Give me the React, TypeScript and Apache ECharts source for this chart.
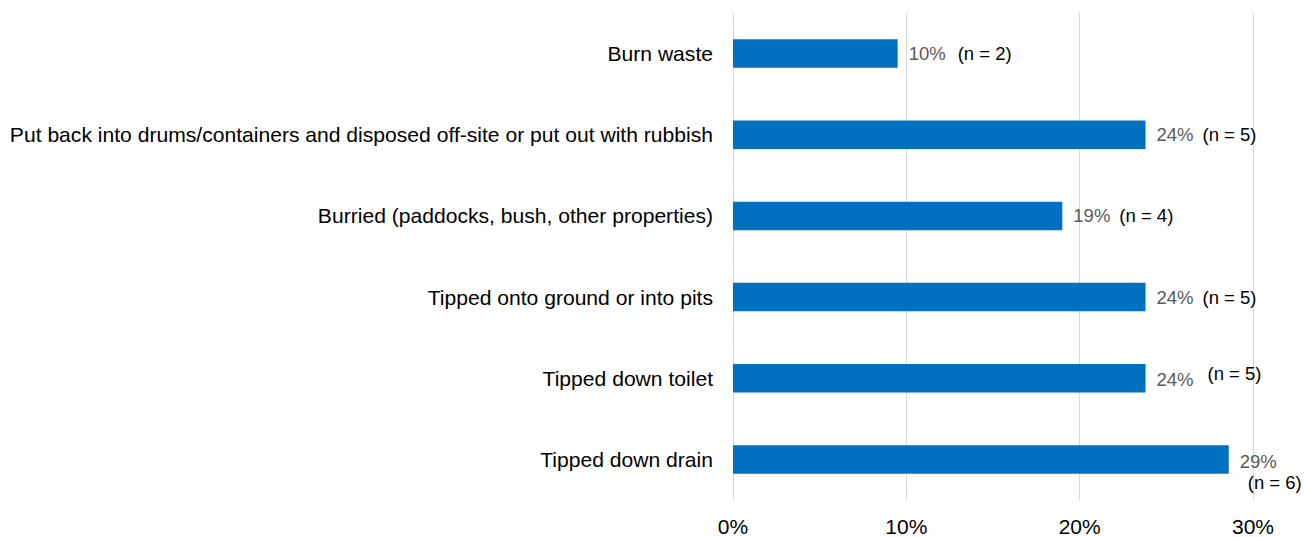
import React, { useEffect, useRef } from "react";
import * as echarts from "echarts";

const categories = [
  "Burn waste",
  "Put back into drums/containers and disposed off-site or put out with rubbish",
  "Burried (paddocks, bush, other properties)",
  "Tipped onto ground or into pits",
  "Tipped down toilet",
  "Tipped down drain",
];
const percentValues = [9.5, 23.8, 19.0, 23.8, 23.8, 28.6];
const counts = [2, 5, 4, 5, 5, 6];
const xTicks = [0, 10, 20, 30];

const FONT = "'Liberation Sans', Arial, sans-serif";

export default function App() {
  const ref = useRef<HTMLDivElement>(null);

  useEffect(() => {
    if (!ref.current) return;
    const chart = echarts.init(ref.current, undefined, { renderer: "svg" });

    const nLabelCfg = [
      { distance: 60, offset: [0, 0] },
      { distance: 57, offset: [0, 0] },
      { distance: 57, offset: [0, 0] },
      { distance: 57, offset: [0, 0] },
      { distance: 62, offset: [0, -5] },
      { distance: 19, offset: [0, 23] },
    ];
    const pctOffsets = [
      [0, 0],
      [0, 0],
      [0, 0],
      [0, 0],
      [0, 1],
      [0, 2],
    ];

    chart.setOption({
      animation: false,
      textStyle: { fontFamily: FONT },
      grid: { left: 733, right: 51, top: 13, bottom: 35, containLabel: false },
      xAxis: {
        type: "value",
        min: xTicks[0],
        max: xTicks[xTicks.length - 1],
        interval: 10,
        axisLine: { show: false },
        axisTick: { show: false },
        axisLabel: {
          formatter: "{value}%",
          fontSize: 21,
          color: "#000",
          fontFamily: FONT,
          margin: 16,
        },
        splitLine: { show: true, lineStyle: { color: "#d9d9d9", width: 1 } },
      },
      yAxis: {
        type: "category",
        inverse: true,
        data: categories,
        axisLine: { show: false },
        axisTick: { show: false },
        axisLabel: {
          fontSize: 21.1,
          color: "#000",
          fontFamily: FONT,
          margin: 20,
        },
        splitLine: { show: false },
      },
      series: [
        {
          type: "bar",
          barWidth: 28.5,
          data: percentValues.map((v, i) => ({
            value: v,
            label: { offset: pctOffsets[i] },
          })),
          itemStyle: { color: "#0070C0" },
          label: {
            show: true,
            position: "right",
            distance: 11,
            fontSize: 18.5,
            color: "#595959",
            fontFamily: FONT,
            formatter: (p: any) => Math.round(p.value) + "%",
          },
          z: 2,
        },
        {
          type: "bar",
          barWidth: 28.5,
          barGap: "-100%",
          data: percentValues.map((v, i) => ({
            value: v,
            label: {
              distance: nLabelCfg[i].distance,
              offset: nLabelCfg[i].offset,
              formatter: "(n = " + counts[i] + ")",
            },
          })),
          itemStyle: { color: "rgba(0,0,0,0)" },
          label: {
            show: true,
            position: "right",
            fontSize: 18.5,
            color: "#000",
            fontFamily: FONT,
          },
          z: 3,
        },
      ],
    });

    return () => chart.dispose();
  }, []);

  return (
    <div
      ref={ref}
      style={{ position: "fixed", left: 0, top: 0, width: 1304, height: 537, background: "#fff" }}
    />
  );
}
